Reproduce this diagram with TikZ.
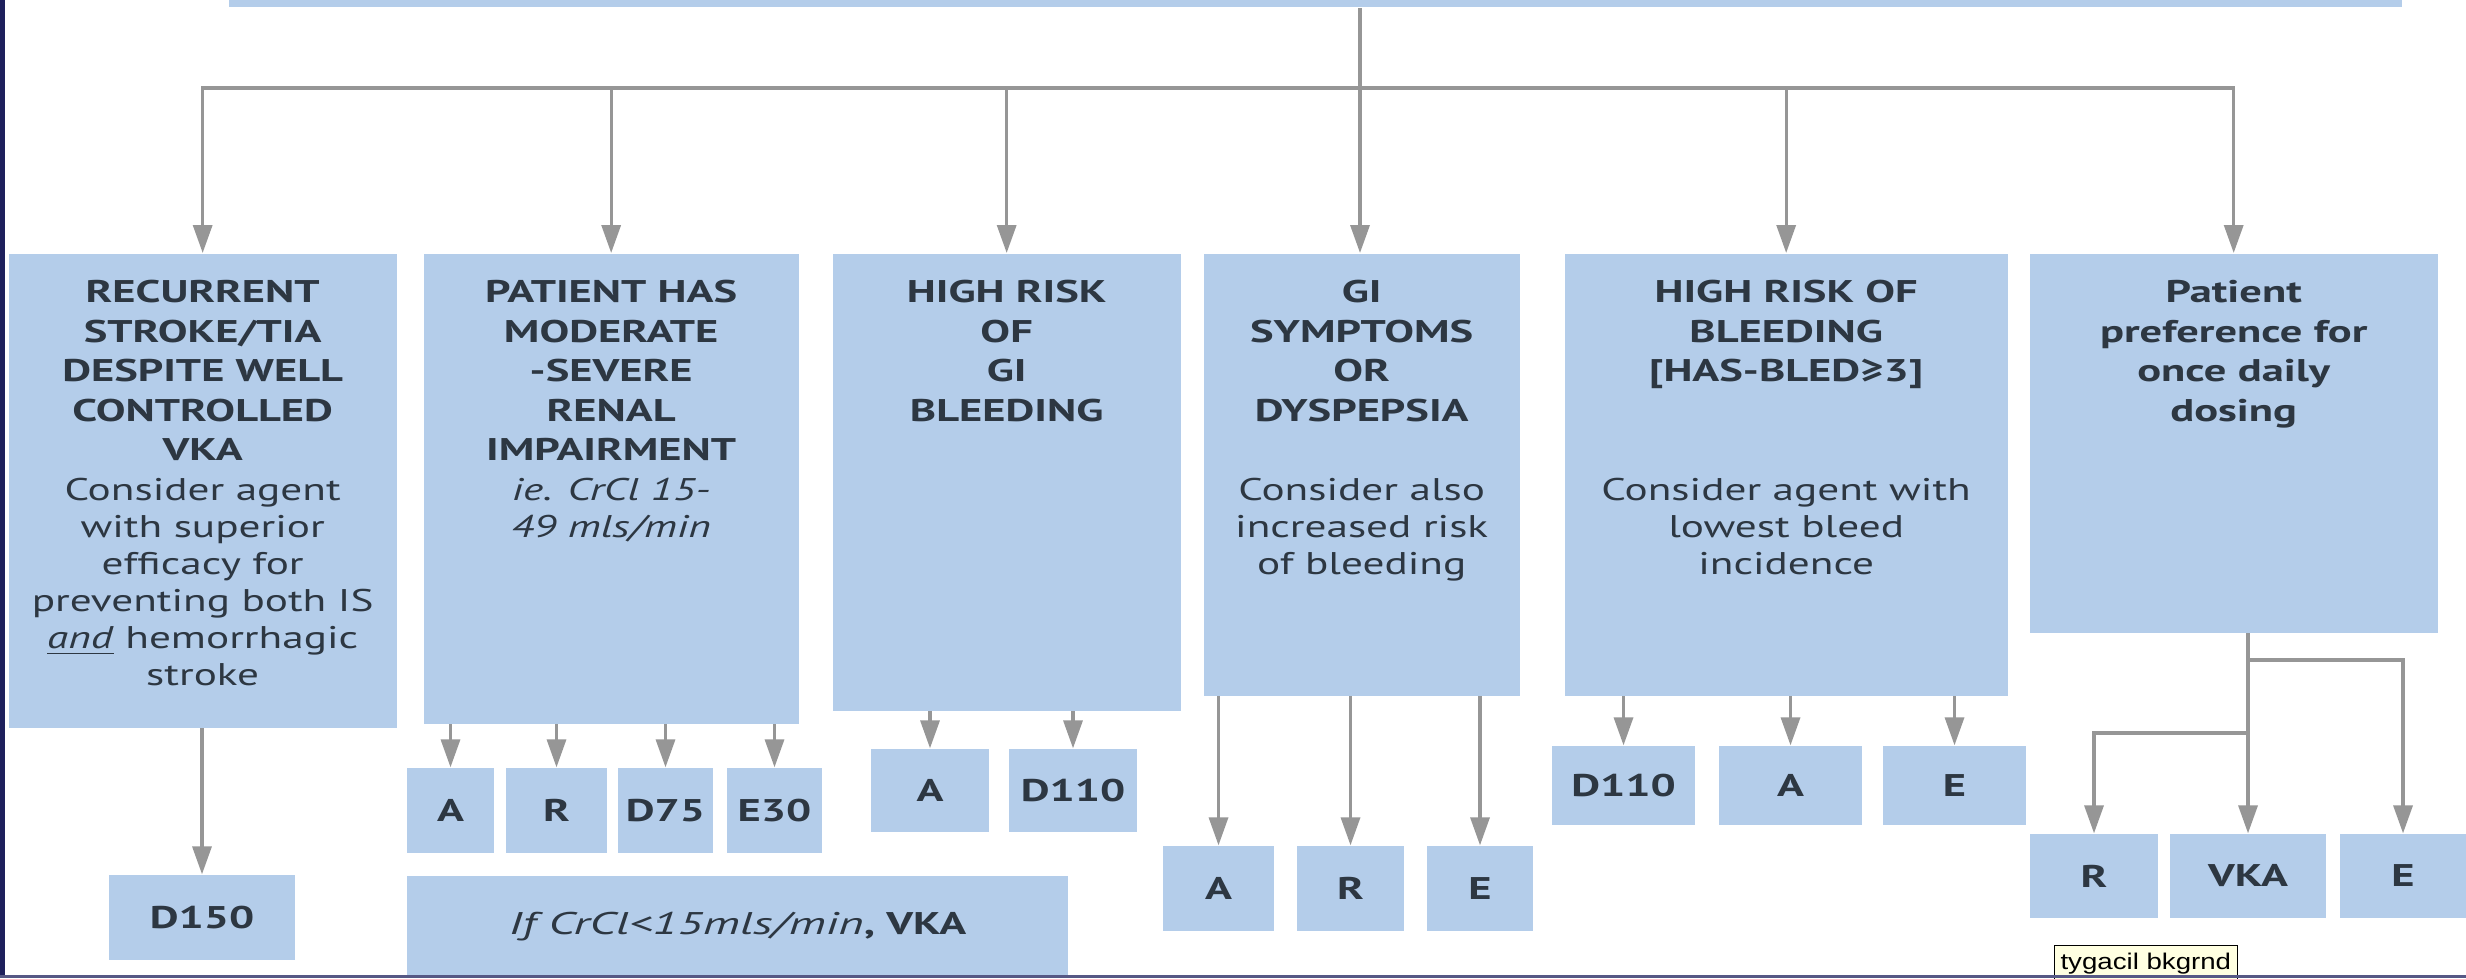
\documentclass[tikz,border=0pt]{standalone}
\usepackage{fontspec}
\setmainfont{PT Sans}[FakeStretch=1.38]
\newfontfamily\hdfont{PT Sans}[FakeStretch=1.42]
\newfontfamily\crfont{PT Sans}[FakeStretch=1.55]
\newfontfamily\tipfont{Liberation Sans}[FakeStretch=1.22]
\usetikzlibrary{arrows.meta}
\definecolor{boxblue}{RGB}{180,205,234}
\definecolor{txt}{RGB}{45,55,66}
\definecolor{conn}{RGB}{150,150,150}
\definecolor{navy}{RGB}{30,32,92}
\definecolor{tipfill}{RGB}{255,255,225}
\newlength\upx \setlength\upx{0.3pt}
\newcommand\hd{\hdfont\fontsize{9.4}{11.85}\selectfont\bfseries}
\newcommand\bd{\fontsize{9.4}{11.1}\selectfont}
\newcommand\tb[3]{\parbox[t][\dimexpr\upx*(#2)\relax][t]{\dimexpr\upx*(#1)\relax}{\centering\vspace*{6.7pt}\rule{0pt}{8pt}#3}}
\newcommand\bx[7][]{\node[lab,#1,minimum width={(#4-#2)*0.3pt},minimum height={(#5-#3)*0.3pt}] (#6) at ({(#2+#4)/2},{(#3+#5)/2}) {#7};}
\tikzset{
  box/.style={fill=boxblue, inner sep=0pt, text=txt},
  lab/.style={box, font=\hd},
  conn/.style={draw=conn, line width=1pt},
  arr/.style={conn, -{Triangle[length=8.4pt,width=5.7pt]}},
  tipbox/.style={fill=tipfill, draw=black, line width=0.3pt, text=black, font=\tipfont\fontsize{6.8}{7.5}\selectfont, inner xsep=1.8pt, inner ysep=2.4pt, anchor=north west}
}
\begin{document}
\begin{tikzpicture}[x=0.3pt,y=-0.3pt]
\useasboundingbox (0,0) rectangle (2466,978);
\clip (0,0) rectangle (2466,978);
\fill[white] (0,0) rectangle (2466,978);

% top bar
\node[box, anchor=south west, minimum width={(2401-228)*0.3pt}, minimum height=12pt] (top) at (228,8) {};

% tall boxes
\node[box, anchor=north west] (b1) at (8,253) {\tb{388}{474}{{\hd RECURRENT\\STROKE/TIA\\DESPITE WELL\\CONTROLLED\\VKA\par}\vspace{0.9pt}{\bd Consider agent\\with superior\\efficacy for\\preventing both IS\\\underline{\textit{and}} hemorrhagic\\stroke\par}}};
\node[box, anchor=north west] (b2) at (423,253) {\tb{375}{470}{{\hd PATIENT HAS\\MODERATE\\-SEVERE\\RENAL\\IMPAIRMENT\par}\vspace{0.9pt}{\bd\itshape ie. CrCl 15-\\49 mls/min\par}}};
\node[box, anchor=north west] (b3) at (832,253) {\tb{348}{457}{{\hd HIGH RISK\\OF\\GI\\BLEEDING\par}}};
\node[box, anchor=north west] (b4) at (1203,253) {\tb{316}{442}{{\hd GI\\SYMPTOMS\\OR\\DYSPEPSIA\par}\vspace{12.75pt}{\bd Consider also\\increased risk\\of bleeding\par}}};
\node[box, anchor=north west] (b5) at (1564,253) {\tb{443}{442}{{\hd HIGH RISK OF\\BLEEDING\\{[}HAS-BLED≥3{]}\par}\vspace{24.6pt}{\bd Consider agent with\\lowest bleed\\incidence\par}}};
\node[box, anchor=north west] (b6) at (2029,253) {\tb{408}{379}{{\hd Patient\\preference for\\once daily\\dosing\par}}};

% small boxes
\bx{109}{875}{295}{960}{d150}{D150}
\bx{407}{768}{494}{853}{a2}{A}
\bx{506}{768}{607}{853}{r2}{R}
\bx{618}{768}{713}{853}{d75}{D75}
\bx{727}{768}{822}{853}{e30}{E30}
\bx{407}{876}{1068}{978}{crcl}{{\crfont\mdseries\itshape If CrCl<15mls/min}, VKA}
\bx{871}{749}{989}{832}{a3}{A}
\bx{1009}{749}{1137}{832}{d3}{D110}
\bx{1163}{846}{1274}{931}{a4}{A}
\bx{1297}{846}{1404}{931}{r4}{R}
\bx{1427}{846}{1533}{931}{e4}{E}
\bx{1552}{746}{1695}{825}{d5}{D110}
\bx{1719}{746}{1862}{825}{a5}{A}
\bx{1883}{746}{2026}{825}{e5}{E}
\bx{2030}{834}{2158}{918}{r6}{R}
\bx{2170}{834}{2326}{918}{v6}{VKA}
\bx{2340}{834}{2466}{918}{e6}{E}

% main tree
\coordinate (j) at (1360,88);
\draw[conn] (top.south -| j) -- (j);
\draw[arr] (j) -| (b1.north);
\draw[arr] (j) -| (b2.north);
\draw[arr] (j) -| (b3.north);
\draw[arr] (j) -- (b4.north -| j);
\draw[arr] (j) -| (b5.north);
\draw[arr] (j) -| (b6.north);

% box children
\draw[arr] (b1.south -| d150.north) -- (d150.north);
\foreach \c in {a2,r2,d75,e30} \draw[arr] (b2.south -| \c.north) -- (\c.north);
\foreach \c in {a3,d3} \draw[arr] (b3.south -| \c.north) -- (\c.north);
\foreach \c in {a4,r4,e4} \draw[arr] (b4.south -| \c.north) -- (\c.north);
\foreach \c in {d5,a5,e5} \draw[arr] (b5.south -| \c.north) -- (\c.north);
\draw[arr] (b6.south -| v6.north) -- (v6.north);
\coordinate (k1) at (2249,660);
\coordinate (k2) at (2249,733);
\draw[arr] (k1) -| (e6.north);
\draw[arr] (k2) -| (r6.north);

% tooltip
\node[tipbox] (tip) at (2054,945) {tygacil bkgrnd};

% frame strips
\fill[navy] (0,0) rectangle (5,978);
\fill[navy!75] (0,975) rectangle (2466,978);
\end{tikzpicture}
\end{document}
